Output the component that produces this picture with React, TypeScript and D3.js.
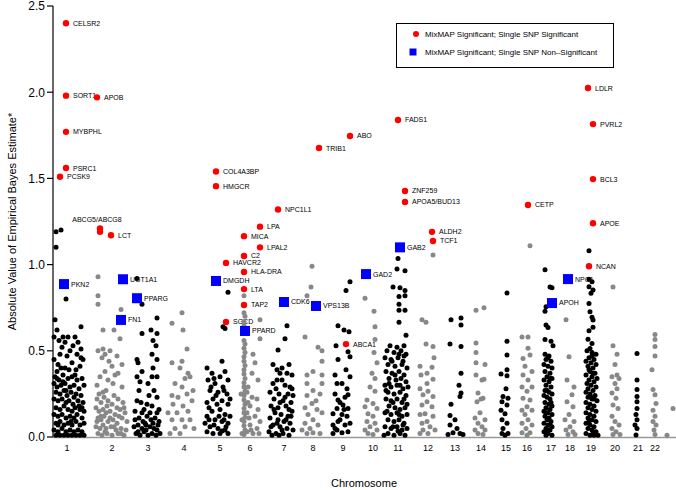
import React from 'react';
import * as d3 from 'd3';

const CHROMOSOMES = ['1','2','3','4','5','6','7','8','9','10','11','12','13','14','15','16','17','18','19','20','21','22'];
// cumulative start of each chromosome on the genome axis
const CHR_START = [0, 41, 79, 113, 150, 185, 215, 241, 273, 303, 329, 359, 389, 415, 440, 462, 486, 507, 527, 550, 575, 593];
const TICK_POS = [14, 59, 95, 131, 167, 197, 231, 260, 290, 320, 345, 375, 402, 428, 453, 474, 498, 517, 538, 562, 585, 602];
const Y_TICKS = [0, 0.5, 1.0, 1.5, 2.0, 2.5];

// [position within chromosome, |EB estimate|]
const chr1 = [[3,1.19],[8,1.20],[3,1.10],[13,0.80],
[2,0.68],[4,0.62],[1,0.58],[10,0.58],[15,0.58],[22,0.58],[28,0.64],[20,0.53],[12,0.55],[28,0.51],[17,0.50],[28,0.46],[7,0.48],[1,0.45],[19,0.43],[12,0.40],[23,0.39],[4,0.38],
[6,0.56],[25,0.55],[9,0.52],[14,0.47],[24,0.48],[30,0.45],[5,0.42],[16,0.39],[27,0.41],[8,0.40],
[2,0.35],[6,0.33],[10,0.36],[15,0.34],[19,0.35],[24,0.33],[29,0.34],[4,0.34],[22,0.36],[10,0.32],
[1,0.31],[4,0.29],[8,0.30],[12,0.31],[17,0.29],[21,0.30],[26,0.28],[31,0.30],
[3,0.26],[7,0.25],[11,0.27],[14,0.24],[18,0.26],[23,0.25],[28,0.24],[13,0.27],[21,0.23],
[1,0.22],[5,0.21],[9,0.22],[13,0.20],[16,0.21],[20,0.19],[25,0.21],[30,0.20],
[3,0.17],[7,0.16],[11,0.18],[15,0.16],[19,0.15],[22,0.17],[27,0.16],[31,0.15],[26,0.18],[29,0.17],
[1,0.13],[5,0.12],[9,0.13],[13,0.11],[17,0.12],[21,0.11],[24,0.13],[29,0.11],
[3,0.08],[7,0.09],[11,0.07],[15,0.08],[19,0.07],[23,0.09],[27,0.07],[31,0.08],[5,0.07],[18,0.09],
[1,0.04],[5,0.03],[9,0.05],[13,0.03],[17,0.04],[21,0.03],[25,0.04],[29,0.03],
[3,0.01],[7,0.01],[11,0.01],[15,0.01],[19,0.01],[23,0.01],[27,0.01],[31,0.01]];
const chr2 = [[4,0.93],[4,0.82],[4,0.77],[27,0.74],[9,0.62],[20,0.62],[26,0.57],[9,0.51],[4,0.50],[11,0.48],[16,0.50],[8,0.46],[23,0.47],[28,0.42],[18,0.41],[11,0.38],[24,0.37],[3,0.30],[14,0.33],[19,0.31],[28,0.29],[9,0.26],
[6,0.35],[15,0.44],[21,0.36],[5,0.25],[12,0.27],[20,0.24],
[3,0.22],[7,0.20],[10,0.23],[14,0.21],[18,0.19],[24,0.22],[29,0.20],[13,0.18],[23,0.17],[30,0.17],
[2,0.17],[5,0.15],[9,0.16],[12,0.14],[16,0.15],[21,0.13],[26,0.16],[31,0.14],
[4,0.11],[7,0.10],[10,0.12],[14,0.09],[19,0.10],[23,0.08],[28,0.11],[33,0.09],[7,0.12],[16,0.11],[25,0.12],[3,0.09],
[2,0.06],[6,0.05],[9,0.07],[12,0.05],[17,0.06],[22,0.04],[27,0.05],[32,0.04],[11,0.03],[20,0.06],[27,0.02],
[4,0.02],[8,0.01],[13,0.02],[18,0.01],[24,0.02],[30,0.01]];
const chr3 = [[5,0.92],[10,0.77],[25,0.69],[10,0.60],[19,0.62],[25,0.60],[21,0.56],[24,0.53],[5,0.45],[6,0.43],[10,0.38],[20,0.48],[25,0.45],[21,0.40],[25,0.35],[5,0.35],[16,0.31],[7,0.27],[22,0.27],[25,0.23],[5,0.21],[15,0.19],[20,0.18],[10,0.14],[25,0.14],
[3,0.15],[12,0.16],[18,0.14],[27,0.16],[9,0.20],[17,0.24],[20,0.35],[8,0.32],
[3,0.10],[7,0.11],[11,0.09],[15,0.12],[19,0.10],[23,0.11],[27,0.09],[13,0.08],[21,0.08],
[2,0.06],[6,0.07],[10,0.05],[14,0.07],[18,0.06],[22,0.05],[26,0.07],[25,0.04],[6,0.03],[14,0.04],
[4,0.02],[8,0.01],[12,0.03],[16,0.01],[20,0.02],[24,0.01],[28,0.02]];
const chr4 = [[16,0.72],[6,0.66],[17,0.62],[21,0.51],[16,0.44],[6,0.43],[22,0.37],[14,0.40],[24,0.35],[9,0.31],[19,0.34],[16,0.29],[6,0.24],[21,0.25],[12,0.23],[26,0.21],[7,0.19],[17,0.18],[11,0.14],[22,0.15],[6,0.10],[16,0.10],[24,0.10],[9,0.05],[19,0.06],[14,0.02],[4,0.02],[28,0.05],[2,0.14],[27,0.27]];
const chr5 = [[25,0.84],[20,0.64],[22,0.63],[19,0.44],[4,0.40],[9,0.37],[22,0.38],[17,0.35],[5,0.33],[25,0.33],[12,0.31],[20,0.29],[7,0.27],[15,0.26],[24,0.25],[10,0.22],[19,0.21],[4,0.20],[14,0.19],[25,0.19],[9,0.15],[17,0.16],[22,0.13],[4,0.12],[12,0.10],[19,0.09],[25,0.08],[7,0.06],[15,0.05],[22,0.04],[4,0.03],[10,0.02],[17,0.02],[25,0.02],[2,0.08],[13,0.24],[27,0.12],[8,0.29],
[6,0.10],[16,0.12],[21,0.10],[11,0.07],[19,0.035],[23,0.06],[6,0.17],[21,0.27],[11,0.34],[27,0.22]];
const chr6 = [[6,0.82],[6,0.72],[7,0.70],[6,0.67],[6,0.645],[6,0.56],[7,0.54],[6,0.515],[7,0.49],[6,0.465],[6,0.44],[7,0.415],[6,0.39],[6,0.365],[7,0.34],[6,0.315],[6,0.29],[7,0.265],[6,0.24],[6,0.215],[7,0.19],[6,0.165],[6,0.14],[7,0.115],[6,0.09],[6,0.065],[7,0.04],[6,0.015],
[22,0.68],[22,0.57],[15,0.48],[17,0.43],[14,0.37],[20,0.33],[10,0.29],[14,0.23],[19,0.22],[12,0.18],[9,0.14],[17,0.12],[22,0.09],[12,0.07],[19,0.05],[9,0.03],[15,0.02],[4,0.02],[3,0.25],[10,0.20],[20,0.16],[4,0.10],[13,0.04],[21,0.02],[9,0.26],[11,0.11]];
const chr7 = [[19,0.645],[17,0.57],[10,0.505],[5,0.42],[9,0.39],[14,0.40],[21,0.42],[12,0.37],[19,0.37],[24,0.36],[5,0.31],[14,0.33],[22,0.29],[8,0.28],[17,0.30],[2,0.26],[11,0.25],[20,0.25],[25,0.24],[6,0.22],[15,0.21],[23,0.20],[3,0.18],[10,0.17],[18,0.18],[24,0.15],[7,0.14],[13,0.13],[20,0.12],[2,0.11],[10,0.10],[16,0.09],[22,0.08],[5,0.07],[12,0.06],[19,0.05],[25,0.04],[1,0.03],[8,0.02],[15,0.02],[21,0.01],[4,0.01],[11,0.01],
[3,0.06],[9,0.08],[14,0.04],[18,0.10],[23,0.12],[6,0.16],[12,0.20],[17,0.23],[21,0.16],[9,0.33],[24,0.28]];
const chr8 = [[18,0.99],[17,0.87],[13,0.82],[11,0.58],[24,0.52],[28,0.50],[28,0.44],[19,0.38],[13,0.36],[28,0.36],[13,0.31],[28,0.31],[19,0.27],[13,0.24],[26,0.25],[18,0.195],[11,0.17],[23,0.16],[28,0.14],[14,0.13],[19,0.10],[11,0.08],[24,0.07],[16,0.05],[19,0.025],[13,0.02],[26,0.02],[8,0.04],[22,0.21]];
const chr9 = [[24,0.90],[20,0.85],[12,0.645],[18,0.62],[23,0.61],[10,0.53],[22,0.495],[12,0.45],[24,0.465],[20,0.39],[11,0.31],[24,0.35],[16,0.31],[21,0.28],[9,0.25],[22,0.245],[12,0.215],[17,0.185],[11,0.165],[22,0.165],[7,0.135],[16,0.13],[21,0.12],[12,0.09],[7,0.07],[19,0.07],[11,0.04],[16,0.025],[22,0.03],[7,0.02],
[9,0.05],[14,0.10],[18,0.16],[24,0.08],[14,0.20],[9,0.36],[19,0.23]];
const chr10 = [[9,0.805],[18,0.73],[19,0.64],[19,0.565],[18,0.49],[21,0.43],[16,0.37],[19,0.34],[14,0.29],[19,0.265],[11,0.215],[17,0.195],[9,0.175],[21,0.165],[12,0.135],[17,0.12],[11,0.09],[19,0.08],[14,0.06],[9,0.04],[21,0.04],[12,0.02],[17,0.015]];
const chr11 = [[16,1.035],[15,0.975],[23,0.965],[11,0.87],[18,0.865],[23,0.85],[23,0.82],[17,0.815],[17,0.77],[23,0.735],[17,0.735],[17,0.665],[24,0.59],
[8,0.53],[15,0.52],[22,0.53],[5,0.50],[12,0.49],[19,0.50],[24,0.48],
[3,0.46],[9,0.45],[16,0.46],[21,0.44],[6,0.42],[13,0.41],[20,0.42],[25,0.40],
[4,0.38],[10,0.37],[17,0.38],[22,0.36],[7,0.34],[14,0.33],[19,0.34],[24,0.32],
[3,0.30],[9,0.29],[15,0.30],[21,0.28],[6,0.26],[12,0.25],[18,0.26],[24,0.24],
[4,0.22],[9,0.21],[15,0.22],[20,0.20],[25,0.19],[7,0.18],[13,0.17],[18,0.16],[23,0.17],
[3,0.14],[9,0.13],[15,0.14],[20,0.12],[25,0.13],[6,0.10],[12,0.09],[17,0.10],[22,0.08],
[3,0.06],[9,0.05],[15,0.06],[20,0.04],[25,0.05],[6,0.02],[12,0.01],[18,0.02],[23,0.01],[2,0.01],
[5,0.15],[11,0.20],[17,0.13],[22,0.22],[7,0.31],[13,0.36],[18,0.30],[10,0.44],[17,0.48],[22,0.47],[4,0.27],[26,0.29],[11,0.06],[16,0.035],[21,0.07]];
const chr12 = [[21,1.055],[10,0.68],[14,0.665],[14,0.54],[21,0.525],[22,0.46],[8,0.41],[20,0.405],[9,0.36],[15,0.37],[21,0.335],[15,0.31],[8,0.28],[16,0.265],[11,0.245],[21,0.235],[15,0.205],[10,0.185],[20,0.175],[13,0.135],[8,0.13],[21,0.12],[15,0.09],[10,0.08],[18,0.06],[11,0.04],[23,0.04],[16,0.02],[8,0.02]];
const chr13 = [[9,0.68],[19,0.69],[19,0.65],[8,0.54],[19,0.525],[19,0.37],[17,0.30],[19,0.255],[18,0.235],[9,0.19],[8,0.125],[13,0.10],[8,0.07],[15,0.05],[11,0.025],[18,0.02],[6,0.015],[21,0.015]];
const chr14 = [[8,0.735],[16,0.75],[8,0.545],[8,0.49],[17,0.42],[8,0.43],[8,0.36],[14,0.33],[16,0.335],[10,0.255],[13,0.22],[15,0.225],[9,0.205],[12,0.14],[7,0.11],[17,0.10],[10,0.08],[14,0.06],[7,0.04],[17,0.04],[10,0.02],[15,0.015]];
const chr15 = [[14,0.835],[14,0.555],[14,0.475],[14,0.39],[8,0.365],[14,0.355],[13,0.28],[10,0.235],[15,0.225],[9,0.205],[14,0.185],[8,0.155],[12,0.135],[9,0.10],[14,0.08],[10,0.05],[9,0.02],[15,0.02],[12,0.01]];
const chr16 = [[15,1.11],[7,0.58],[13,0.58],[13,0.515],[8,0.455],[15,0.475],[10,0.41],[17,0.38],[8,0.36],[13,0.33],[7,0.29],[17,0.29],[12,0.265],[8,0.225],[15,0.215],[12,0.175],[7,0.155],[17,0.155],[10,0.13],[13,0.10],[7,0.08],[17,0.07],[11,0.05],[7,0.025],[15,0.025],[12,0.01]];
const chr17 = [[6,0.97],[11,0.87],[13,0.865],[7,0.755],[6,0.73],[7,0.65],[9,0.635],[6,0.565],[12,0.555],[14,0.53],
[6,0.48],[10,0.47],[7,0.45],[12,0.44],[5,0.42],[9,0.41],[13,0.40],[6,0.38],[11,0.37],[8,0.35],[13,0.34],[5,0.33],[10,0.32],[7,0.30],[12,0.29],[6,0.27],[10,0.26],[13,0.25],[5,0.24],[8,0.23],[11,0.22],[6,0.20],[10,0.19],[13,0.18],[7,0.17],[11,0.16],[5,0.15],[9,0.14],[13,0.13],[6,0.12],[10,0.11],[8,0.10],[12,0.09],[5,0.08],[9,0.07],[13,0.06],[7,0.05],[11,0.04],[5,0.03],[9,0.02],[13,0.01],[7,0.01],
[9,0.46],[11,0.34],[8,0.27],[12,0.20],[7,0.14],[11,0.07],[9,0.04]];
const chr18 = [[6,0.68],[9,0.465],[7,0.33],[14,0.29],[12,0.245],[7,0.205],[13,0.175],[9,0.13],[5,0.10],[14,0.09],[10,0.06],[6,0.04],[13,0.03],[8,0.015],[15,0.015]];
const chr19 = [[9,1.08],[9,0.915],[12,0.90],[9,0.872],[13,0.853],[11,0.834],[9,0.775],[10,0.727],[12,0.694],[13,0.679],[9,0.617],[13,0.636],[8,0.567],[12,0.543],[10,0.514],
[7,0.50],[12,0.49],[16,0.48],[9,0.46],[14,0.45],[6,0.44],[11,0.43],[16,0.42],[8,0.41],[13,0.40],[10,0.38],[15,0.37],[6,0.36],[12,0.35],[17,0.34],[9,0.33],[14,0.32],[7,0.31],[11,0.30],[16,0.29],[8,0.28],[13,0.27],[6,0.26],[10,0.25],[15,0.24],[8,0.23],[12,0.22],[17,0.21],[6,0.20],[10,0.19],[14,0.18],[8,0.17],[12,0.16],[16,0.15],[6,0.14],[10,0.13],[14,0.12],[8,0.11],[12,0.10],[16,0.09],[6,0.08],[10,0.07],[14,0.06],[8,0.05],[12,0.04],[16,0.03],[6,0.02],[10,0.01],[14,0.01],[18,0.01],
[12,0.47],[9,0.39],[13,0.37],[11,0.23],[14,0.22],[9,0.09],[13,0.02]];
const chr20 = [[10,0.87],[10,0.53],[14,0.48],[12,0.42],[14,0.36],[9,0.35],[16,0.34],[12,0.31],[14,0.28],[9,0.255],[13,0.225],[10,0.185],[15,0.165],[9,0.12],[12,0.09],[16,0.07],[9,0.05],[13,0.03],[10,0.015],[17,0.015]];
const chr21 = [[9,0.485],[9,0.33],[9,0.275],[9,0.235],[9,0.205],[9,0.165],[8,0.13],[9,0.10],[7,0.07],[9,0.05],[8,0.012]];
const chr22 = [[9,0.595],[9,0.565],[9,0.525],[9,0.47],[6,0.39],[7,0.275],[9,0.245],[10,0.195],[7,0.155],[9,0.12],[7,0.09],[10,0.07],[8,0.04],[9,0.015],[21,0.01],[27,0.165]];
const CHR_POINTS = [chr1, chr2, chr3, chr4, chr5, chr6, chr7, chr8, chr9, chr10, chr11, chr12, chr13, chr14, chr15, chr16, chr17, chr18, chr19, chr20, chr21, chr22];

// MixMAP significant genes, single SNP significant: [gene, chromosome, position, value]
const RED_GENES: [string, number, number, number][] = [
  ['CELSR2',1,13,2.40],['SORT1',1,13,1.98],['APOB',2,3,1.97],['MYBPHL',1,13,1.77],['PSRC1',1,13,1.56],['PCSK9',1,7,1.51],
  ['ABCG5/ABCG8',2,6,1.21],['',2,6,1.19],['LCT',2,17,1.17],['COL4A3BP',5,13,1.54],['HMGCR',5,13,1.455],['HAVCR2',5,23,1.01],
  ['SGCD',5,23,0.667],['MICA',6,6,1.165],['C2',6,6,1.05],['HLA-DRA',6,6,0.957],['LTA',6,6,0.858],['TAP2',6,6,0.766],
  ['LPA',6,22,1.22],['LPAL2',6,22,1.10],['NPC1L1',7,10,1.32],['TRIB1',8,25,1.676],['ABO',9,24,1.746],['ABCA1',9,20,0.539],
  ['FADS1',11,16,1.839],['ZNF259',11,23,1.427],['APOA5/BUD13',11,23,1.363],['ALDH2',12,20,1.19],['TCF1',12,21,1.137],
  ['CETP',16,13,1.346],['LDLR',19,8,2.024],['PVRL2',19,13,1.815],['BCL3',19,13,1.496],['APOE',19,13,1.24],['NCAN',19,9,0.99]
];
// MixMAP significant genes, single SNP non-significant
const BLUE_GENES: [string, number, number, number][] = [
  ['PKN2',1,11,0.887],['UGT1A1',2,29,0.915],['FN1',2,27,0.679],['PPARG',3,5,0.805],['DMGDH',5,13,0.905],['PPARD',6,7,0.615],
  ['CDK6',7,16,0.783],['VPS13B',8,22,0.76],['GAD2',10,10,0.945],['GAB2',11,18,1.10],['APOH',17,13,0.777],['NPC1',18,8,0.916]
];
const LEGEND_LABELS = ['MixMAP Significant; Single SNP Significant', 'MixMAP Significant; Single SNP Non\u2013Significant'];

const FONT = '"Liberation Sans", Arial, Helvetica, sans-serif';

export default function App() {
  const W = 676, H = 490;
  const x = d3.scaleLinear().domain([0, 623]).range([53, 676]);
  const y = d3.scaleLinear().domain([0, 2.5]).range([437, 6]);

  const bg = CHR_POINTS.flatMap((pts, i) =>
    pts.map(([p, v], j) => ({ key: `${i}-${j}`, cx: x(CHR_START[i] + p), cy: y(v), fill: i % 2 === 0 ? '#000000' : '#888888' }))
  );
  const red = RED_GENES.map(([g, c, p, v]) => ({ g, cx: x(CHR_START[c - 1] + p), cy: y(v) }));
  const blue = BLUE_GENES.map(([g, c, p, v]) => ({ g, cx: x(CHR_START[c - 1] + p), cy: y(v) }));
  const sq = 10;

  return (
    <div style={{ position: 'fixed', left: 0, top: 0, width: W, height: H, background: '#fff' }}>
      <svg width={W} height={H} style={{ display: 'block' }} fontFamily={FONT}>
        <rect x={0} y={0} width={W} height={H} fill="#fff" />
        {/* labels (drawn below points) */}
        {red.filter(d => d.g).map((d, i) => d.g === 'ABCG5/ABCG8' ? (
          <text key={'rl' + i} x={d.cx - 3} y={d.cy - 6} textAnchor="middle" fontSize={7} fill="#000">{d.g}</text>
        ) : (
          <text key={'rl' + i} x={d.cx + 7} y={d.cy} dy="0.35em" fontSize={7} fill="#000">{d.g}</text>
        ))}
        {blue.map((d, i) => (
          <text key={'bl' + i} x={d.cx + 7} y={d.cy} dy="0.35em" fontSize={7} fill="#000">{d.g}</text>
        ))}
        {/* x axis line */}
        <line x1={x(0)} x2={x(623)} y1={y(0) + 0.5} y2={y(0) + 0.5} stroke="#999" strokeWidth={1.5} />
        {/* background SNP-set points */}
        {bg.map(d => <circle key={d.key} cx={d.cx} cy={d.cy} r={2.5} fill={d.fill} />)}
        {/* significant markers */}
        {red.map((d, i) => <circle key={'r' + i} cx={d.cx} cy={d.cy} r={3.2} fill="#ff0000" />)}
        {blue.map((d, i) => <rect key={'b' + i} x={d.cx - sq / 2} y={d.cy - sq / 2} width={sq} height={sq} fill="#0000ff" />)}
        {/* y axis */}
        <line x1={53} x2={53} y1={y(2.5)} y2={y(0)} stroke="#000" strokeWidth={1.2} />
        {Y_TICKS.map(t => (
          <g key={'yt' + t}>
            <line x1={47} x2={53} y1={y(t)} y2={y(t)} stroke="#000" strokeWidth={1.2} />
            <text x={45} y={y(t)} dy="0.36em" textAnchor="end" fontSize={12} fill="#000">{t.toFixed(1)}</text>
          </g>
        ))}
        {/* x tick labels */}
        {CHROMOSOMES.map((c, i) => (
          <text key={'xt' + c} x={x(TICK_POS[i])} y={451} textAnchor="middle" fontSize={9} fill="#000">{c}</text>
        ))}
        <text x={364} y={487} textAnchor="middle" fontSize={11} fill="#000">Chromosome</text>
        <text transform={`translate(16,${(y(0) + y(2.5)) / 2}) rotate(-90)`} textAnchor="middle" fontSize={11} fill="#000">Absolute Value of Empirical Bayes Estimate*</text>
        {/* legend */}
        <rect x={396.5} y={23.5} width={217} height={44} fill="#fff" stroke="#000" strokeWidth={1} />
        <circle cx={416} cy={34} r={3} fill="#ff0000" />
        <text x={425} y={34} dy="0.35em" fontSize={8} fill="#000">{LEGEND_LABELS[0]}</text>
        <rect x={409.5} y={48.5} width={7} height={7} fill="#0000ff" />
        <text x={425} y={52} dy="0.35em" fontSize={8} fill="#000">{LEGEND_LABELS[1]}</text>
      </svg>
    </div>
  );
}
